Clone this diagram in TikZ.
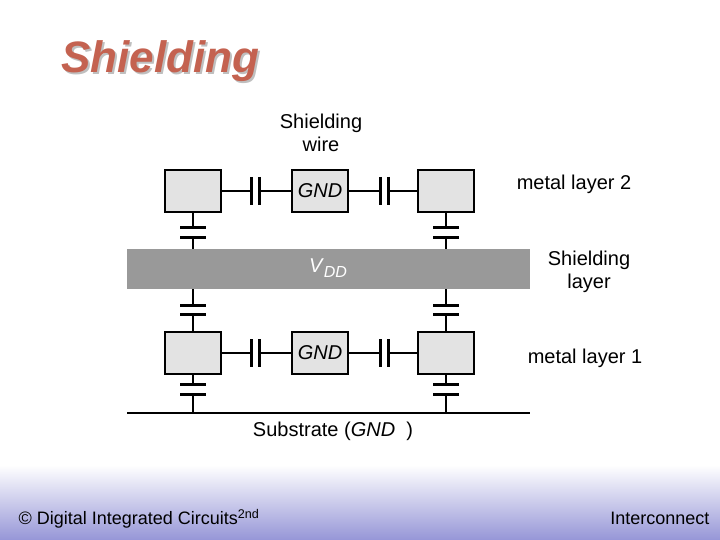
\documentclass[tikz,border=0pt]{standalone}
\usepackage{fontspec}
\setmainfont{Liberation Sans}
\begin{document}
\begin{tikzpicture}[x=1pt,y=-1pt,
  box/.style={draw=black,line width=1.3pt,fill=black!11},
  wire/.style={line width=1.3pt},
  plate/.style={line width=3pt},
  lbl/.style={font=\fontsize{20}{23}\selectfont,align=center}]
\useasboundingbox (0,0) rectangle (720,540);
\shade[top color=white,bottom color={rgb,255:red,150;green,150;blue,215}] (0,465) rectangle (720,540);
\node[font=\fontsize{44}{48}\selectfont\bfseries\itshape,text=black!25,anchor=west] at (60,63) {Shielding};
\node[font=\fontsize{44}{48}\selectfont\bfseries\itshape,text={rgb,255:red,196;green,98;blue,80},anchor=west] (title) at (58,61) {Shielding};
% bar
\fill[black!40] (127,249) rectangle (530,289);
\node[lbl,text=white] (vdd) at (328,268) {\textit{V}\raisebox{-0.5ex}{\fontsize{16}{18}\selectfont\textit{DD}}};
% boxes
\foreach \n/\x/\y in {a/165/170,b/292/170,c/418/170,d/165/332,e/292/332,f/418/332}{
  \draw[box] (\x,\y) rectangle ++(56,42);
  \coordinate (\n) at (\x+28,\y+21);}
\node[lbl] at (b) {\textit{GND}};
\node[lbl] at (e) {\textit{GND}};
% horizontal caps
\foreach \y in {191,353}{
  \draw[wire] (221,\y) -- (251,\y) (259,\y) -- (292,\y);
  \draw[plate] (251,\y-14) -- (251,\y+14) (259,\y-14) -- (259,\y+14);
  \draw[wire] (348,\y) -- (380,\y) (388,\y) -- (418,\y);
  \draw[plate] (380,\y-14) -- (380,\y+14) (388,\y-14) -- (388,\y+14);}
% vertical caps
\foreach \x in {193,446}{
  \draw[wire] (\x,212) -- (\x,228) (\x,237) -- (\x,249);
  \draw[plate] (\x-13,228) -- (\x+13,228) (\x-13,237) -- (\x+13,237);
  \draw[wire] (\x,289) -- (\x,305) (\x,314) -- (\x,332);
  \draw[plate] (\x-13,305) -- (\x+13,305) (\x-13,314) -- (\x+13,314);
  \draw[wire] (\x,374) -- (\x,384) (\x,394) -- (\x,413);
  \draw[plate] (\x-13,384) -- (\x+13,384) (\x-13,394) -- (\x+13,394);}
\draw[line width=2pt] (127,413) -- (530,413);
% labels
\node[lbl] (sw) at (321,133) {Shielding\\wire};
\node[lbl] (m2) at (574,184) {metal layer 2};
\node[lbl] (sl) at (589,272) {Shielding\\layer};
\node[lbl] (m1) at (585,358) {metal layer 1};
\node[font=\fontsize{20}{23}\selectfont] (sub) at (333,431) {Substrate (\textit{GND} \ )};
\node[font=\fontsize{18}{21}\selectfont,anchor=west] (ft) at (15,519) {© Digital Integrated Circuits\textsuperscript{2nd}};
\node[font=\fontsize{18}{21}\selectfont,anchor=east] (ic) at (713,518) {Interconnect};
\end{tikzpicture}
\end{document}
